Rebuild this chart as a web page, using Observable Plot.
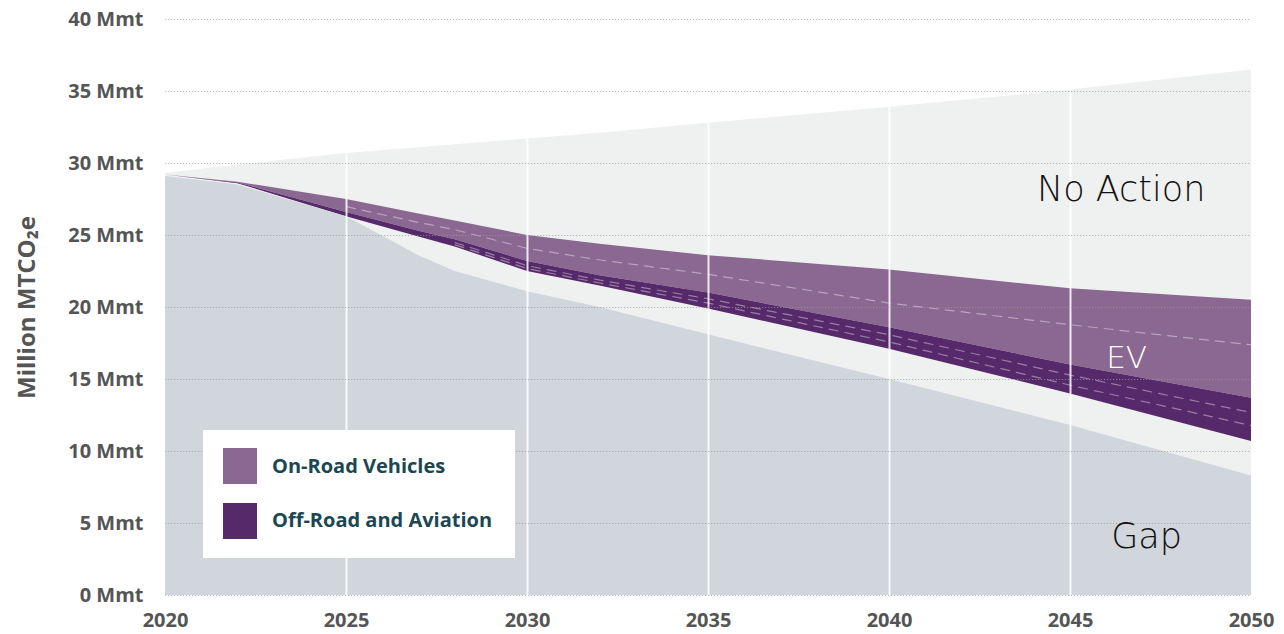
<!DOCTYPE html>
<html>
<head>
<meta charset="utf-8">
<script src="https://cdn.jsdelivr.net/npm/d3@7"></script>
<script src="https://cdn.jsdelivr.net/npm/@observablehq/plot@0.6"></script>
<style>
  body { margin: 0; background: #fff; }
  #wrap { position: relative; width: 1284px; height: 634px; overflow: hidden; }
  .legend { position: absolute; left: 203px; top: 430px; width: 312px; height: 128px; background: #fff;
            font-family: "Open Sans", sans-serif; font-weight: 700; font-size: 20px; color: #1b4652; }
  .legend .sw { position: absolute; left: 20px; width: 34px; height: 36px; }
  .legend .lb { position: absolute; left: 69px; line-height: 1; transform: translateY(-50%); white-space: nowrap; }
</style>
</head>
<body>
<div id="wrap"></div>
<script>
const years        = [2020, 2022, 2025, 2027, 2028, 2030, 2032, 2035, 2040, 2045, 2050];
const noAction     = [29.3, 29.9, 30.7, 31.1, 31.3, 31.7, 32.1, 32.8, 33.9, 35.1, 36.5];
const onRoadTop    = [29.2, 28.7, 27.5, 26.5, 26.0, 25.0, 24.4, 23.6, 22.6, 21.3, 20.5];
const offRoadTop   = [29.2, 28.65, 26.6, 25.3, 24.7, 23.2, 22.2, 21.0, 18.6, 16.0, 13.7];
const offRoadBot   = [29.2, 28.6, 26.3, 24.9, 24.2, 22.5, 21.5, 19.9, 17.1, 14.0, 10.7];
const gapTop       = [29.1, 28.5, 26.3, 23.6, 22.5, 21.1, 20.0, 18.1, 15.0, 11.8, 8.3];
const dashOnRoad   = [29.2, 28.68, 27.0, 25.9, 25.4, 24.1, 23.3, 22.3, 20.3, 18.8, 17.4];
const dashOffA     = [29.2, 28.63, 26.5, 25.15, 24.5, 22.9, 21.9, 20.6, 18.1, 15.3, 12.7];
const dashOffB     = [29.2, 28.61, 26.4, 25.05, 24.35, 22.7, 21.7, 20.3, 17.6, 14.6, 11.8];

const xTicks = [2020, 2025, 2030, 2035, 2040, 2045, 2050];
const yTicks = [0, 5, 10, 15, 20, 25, 30, 35, 40];
const dividerYears = [2025, 2030, 2035, 2040, 2045];

const labelText = ["No Action", "EV", "Gap"];
const labelX    = [2046.4, 2046.55, 2047.1];
const labelY    = [28.15, 16.5, 4.1];
const labelFill = ["#111", "#fff", "#111"];

const legendNames  = ["On-Road Vehicles", "Off-Road and Aviation"];
const legendColors = ["#8a6892", "#56296a"];

const table = years.map((year, i) => ({
  year, noAction: noAction[i], onRoadTop: onRoadTop[i], offRoadTop: offRoadTop[i],
  offRoadBot: offRoadBot[i], gapTop: gapTop[i],
  dashOnRoad: dashOnRoad[i], dashOffA: dashOffA[i], dashOffB: dashOffB[i]
}));
const dividers = table.filter(d => dividerYears.includes(d.year));
const labels = labelText.map((t, i) => ({t, x: labelX[i], y: labelY[i], fill: labelFill[i]}));

const dash = {stroke: "#fff", strokeOpacity: 0.4, strokeWidth: 1.2, strokeDasharray: "9,7"};

const chart = Plot.plot({
  width: 1284, height: 634,
  marginLeft: 165, marginRight: 33, marginTop: 19, marginBottom: 39,
  style: {background: "#fff", fontFamily: "'Open Sans', sans-serif"},
  x: {domain: [2020, 2050]},
  y: {domain: [0, 40]},
  marks: [
    Plot.areaY(table, {x: "year", y1: 0, y2: "noAction", fill: "#eff0f0"}),
    Plot.areaY(table, {x: "year", y1: "offRoadTop", y2: "onRoadTop", fill: legendColors[0]}),
    Plot.areaY(table, {x: "year", y1: "offRoadBot", y2: "offRoadTop", fill: legendColors[1]}),
    Plot.areaY(table, {x: "year", y1: 0, y2: "gapTop", fill: "#d0d6dc"}),
    Plot.lineY(table.slice(2), {x: "year", y: "dashOnRoad", ...dash}),
    Plot.lineY(table.slice(4), {x: "year", y: "dashOffA", ...dash}),
    Plot.lineY(table.slice(4), {x: "year", y: "dashOffB", ...dash}),
    Plot.ruleX(dividers, {x: "year", y1: 0, y2: "noAction", stroke: "#fff", strokeWidth: 2, strokeOpacity: 0.85}),
    Plot.ruleY(yTicks, {stroke: "#9a9a9a", strokeOpacity: 0.7, strokeWidth: 1.2, strokeDasharray: "1.2,1.8"}),
    Plot.axisY({ticks: yTicks, tickSize: 0, tickPadding: 22, tickFormat: d => `${d} Mmt`,
                fontSize: 20, fontWeight: 700, fill: "#555", label: null}),
    Plot.axisX({ticks: xTicks, tickSize: 0, tickPadding: 17, tickFormat: d => String(d),
                fontSize: 20, fontWeight: 700, fill: "#555", label: null}),
    Plot.text(["Million MTCO₂e"], {frameAnchor: "left", dx: -138, rotate: -90, fontSize: 24,
                fontWeight: 700, fill: "#555", textAnchor: "middle", lineAnchor: "middle"}),
    Plot.text(labels, {x: "x", y: "y", text: "t", fill: "fill", fontSize: d => d.t === "EV" ? 31 : 35,
                fontFamily: "'DejaVu Sans', sans-serif", fontWeight: 200,
                textAnchor: "middle", lineAnchor: "middle"})
  ]
});

const wrap = document.getElementById("wrap");
wrap.appendChild(chart);

const legend = document.createElement("div");
legend.className = "legend";
legendNames.forEach((name, i) => {
  const sw = document.createElement("div");
  sw.className = "sw";
  sw.style.top = (18 + i * 55) + "px";
  sw.style.background = legendColors[i];
  const lb = document.createElement("div");
  lb.className = "lb";
  lb.style.top = (36 + i * 54) + "px";
  lb.textContent = name;
  legend.appendChild(sw);
  legend.appendChild(lb);
});
wrap.appendChild(legend);
</script>
</body>
</html>
